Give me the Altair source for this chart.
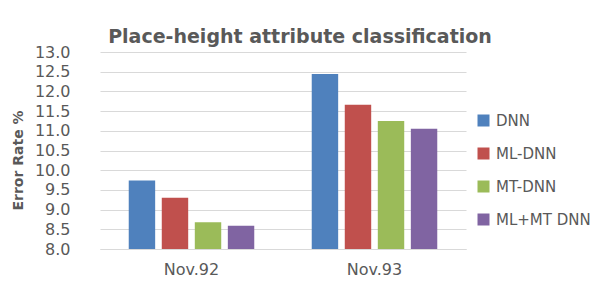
import altair as alt
import pandas as pd

groups = ["Nov.92", "Nov.93"]
models = ["DNN", "ML-DNN", "MT-DNN", "ML+MT DNN"]
colors = ["#4F81BD", "#C0504D", "#9BBB59", "#8064A2"]
nov92 = [9.74, 9.30, 8.68, 8.59]
nov93 = [12.44, 11.66, 11.25, 11.05]

rows = []
for g, vals in zip(groups, [nov92, nov93]):
    for m, v in zip(models, vals):
        rows.append({"group": g, "model": m, "value": v})
df = pd.DataFrame(rows)

FONT = "DejaVu Sans"
GRAY = "#595959"

chart = alt.Chart(df).mark_bar(clip=True).encode(
    x=alt.X("group:N", sort=groups,
            scale=alt.Scale(paddingInner=0, paddingOuter=0),
            axis=alt.Axis(title=None, labelAngle=0, ticks=False, labelPadding=12,
                          labelFontSize=16, labelColor=GRAY, labelFont=FONT,
                          domainColor="#d9d9d9", grid=False)),
    xOffset=alt.XOffset("model:N", sort=models,
                        scale=alt.Scale(paddingInner=0.2, paddingOuter=0.87)),
    y=alt.Y("value:Q",
            scale=alt.Scale(domain=[8, 13], zero=False, nice=False),
            axis=alt.Axis(title="Error Rate %", values=[8 + 0.5 * i for i in range(11)],
                          format=".1f", ticks=False, domain=False, labelPadding=30,
                          labelFontSize=16, labelColor=GRAY, labelFont=FONT,
                          titleFont=FONT, titleFontSize=14, titleFontWeight="bold",
                          titleColor=GRAY, titleAngle=-90, titleX=-82, titleY=108,
                          titleAlign="center", titleBaseline="middle",
                          gridColor="#d9d9d9", gridWidth=1)),
    color=alt.Color("model:N", sort=models,
                    scale=alt.Scale(domain=models, range=colors),
                    legend=alt.Legend(title=None, orient="none", legendX=376, legendY=61,
                                      symbolType="square", symbolSize=144,
                                      symbolStrokeWidth=0, rowPadding=17,
                                      labelOffset=5, labelFontSize=15,
                                      labelColor=GRAY, labelFont=FONT)),
).properties(
    width=366,
    height=197,
    title=alt.TitleParams("Place-height  attribute classification", anchor="middle",
                          dx=17, offset=-3, fontSize=19, fontWeight="bold",
                          color=GRAY, font=FONT),
    autosize=alt.AutoSizeParams(type="none"),
    padding={"left": 92, "top": 44, "right": 128, "bottom": 29},
).configure_view(stroke=None)

chart.save("out.html", embed_options={"renderer": "svg", "actions": False})
